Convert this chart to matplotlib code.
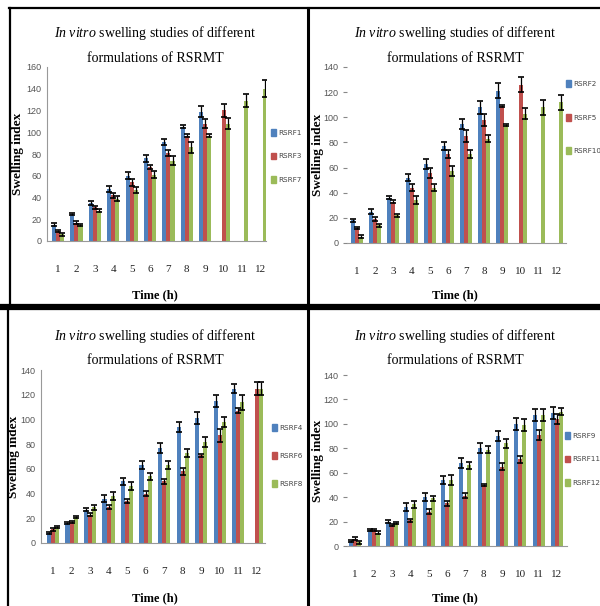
import numpy as np
import matplotlib
matplotlib.use("Agg")
import matplotlib.pyplot as plt
from matplotlib.lines import Line2D
from matplotlib.patches import Patch

plt.rcParams['mathtext.fontset'] = 'custom'
plt.rcParams['mathtext.rm'] = 'Liberation Serif'
plt.rcParams['mathtext.it'] = 'Liberation Serif:italic'

hours = list(range(1, 13))
nan = np.nan

# Panel A (top-left)
a_names = ["RSRF1", "RSRF3", "RSRF7"]
a_s1 = [15, 25, 35, 48, 60, 76, 91, 105, 119, nan, nan, nan]
a_s2 = [9, 17, 31, 42, 54, 68, 81, 97, 108, 120, nan, nan]
a_s3 = [6, 15, 28, 39, 47, 61, 74, 86, 97, 108, 129, 140]
a_e1 = [1.5, 1, 2, 2.5, 3, 3, 3, 1.5, 5, nan, nan, nan]
a_e2 = [1, 1, 1.5, 2, 3, 2, 3, 1, 4, 6, nan, nan]
a_e3 = [1, 1, 1.5, 2, 3, 3, 4, 5, 1, 5, 6, 8]

# Panel B (top-right)
b_names = ["RSRF2", "RSRF5", "RSRF10"]
b_s1 = [18, 25, 36, 52, 63, 77, 95, 108, 121, nan, nan, nan]
b_s2 = [12, 19, 33, 44, 56, 71, 85, 98, 109, 126, nan, nan]
b_s3 = [5, 14, 22, 34, 44, 57, 71, 83, 94, 103, 108, 112]
b_e1 = [1, 2, 1, 3, 4, 3, 4, 5, 6, nan, nan, nan]
b_e2 = [1, 1.5, 1, 3, 4, 3, 5, 5, 1, 6, nan, nan]
b_e3 = [1, 1, 1, 3, 3, 4, 3, 3, 1, 4, 6, 6]

# Panel C (bottom-left)
c_names = ["RSRF4", "RSRF6", "RSRF8"]
c_s1 = [8, 16, 27, 36, 50, 63, 77, 94, 101, 115, 125, nan]
c_s2 = [11, 17, 23, 29, 34, 40, 50, 58, 71, 87, 107, 125]
c_s3 = [13, 21, 29, 38, 46, 54, 63, 73, 82, 98, 114, 125]
c_e1 = [1, 1, 1.5, 3, 3, 3, 4, 4, 5, 5, 4, nan]
c_e2 = [1, 1, 1.5, 1.5, 2, 2, 2, 3, 1, 5, 2, 5]
c_e3 = [1, 1, 2, 3, 3, 3, 3, 3, 4, 4, 6, 5]

# Panel D (bottom-right)
d_names = ["RSRF9", "RSRF11", "RSRF12"]
d_s1 = [4, 13, 20, 32, 40, 54, 68, 80, 90, 100, 107, 109]
d_s2 = [6, 13, 17, 21, 28, 35, 41, 50, 65, 71, 91, 104]
d_s3 = [3, 11, 19, 34, 39, 54, 66, 79, 84, 99, 107, 110]
d_e1 = [1, 1, 1, 3, 3, 3, 4, 4, 4, 5, 5, 5]
d_e2 = [1, 1, 1, 1, 2, 2, 2, 1, 3, 3, 4, 4]
d_e3 = [1, 1, 1, 3, 2, 4, 3, 3, 4, 5, 5, 3]

colors = ["#4F81BD", "#C0504D", "#9BBB59"]
W, H = 600, 606
fig = plt.figure(figsize=(6, 6.06), dpi=100)

def fx(px):
    return px / W

def fy(py):
    return 1 - py / H

panels = [
    dict(names=a_names, s=[a_s1, a_s2, a_s3], e=[a_e1, a_e2, a_e3],
         box=(47, 266, 241, 67), xlim=(0.4, 12.3), ymax=160, spine=True,
         leg=(271, 129), lsp=2.3, title=(155, 33), tx=(155, 295), yl=18, pad=4),
    dict(names=b_names, s=[b_s1, b_s2, b_s3], e=[b_e1, b_e2, b_e3],
         box=(347, 566, 243, 67), xlim=(0.45, 12.5), ymax=140, spine=False,
         leg=(566, 80), lsp=3.7, title=(455, 33), tx=(455, 295), yl=318, pad=3),
    dict(names=c_names, s=[c_s1, c_s2, c_s3], e=[c_e1, c_e2, c_e3],
         box=(41, 265, 543, 370), xlim=(0.35, 12.45), ymax=140, spine=True,
         leg=(272, 424), lsp=2.9, title=(155, 336), tx=(155, 598), yl=14, pad=4),
    dict(names=d_names, s=[d_s1, d_s2, d_s3], e=[d_e1, d_e2, d_e3],
         box=(347, 567, 546, 375), xlim=(0.55, 12.55), ymax=140, spine=False,
         leg=(565, 432), lsp=2.3, title=(455, 336), tx=(455, 598), yl=318, pad=3),
]

x = np.array(hours, dtype=float)
w = 0.22
for p in panels:
    l, r, b, t = p['box']
    ax = fig.add_axes([fx(l), fy(b), fx(r) - fx(l), fy(t) - fy(b)])
    for i in range(3):
        vals = np.array(p['s'][i], dtype=float)
        errs = np.array(p['e'][i], dtype=float)
        pos = x + (i - 1) * w
        ax.bar(pos, vals, width=w, color=colors[i], label=p['names'][i])
        ax.errorbar(pos, vals, yerr=errs, fmt='none', ecolor='black',
                    elinewidth=0.9, capsize=2.2, capthick=1.2)
    ax.set_xlim(*p['xlim'])
    ax.set_ylim(0, p['ymax'])
    ax.set_yticks(np.arange(0, p['ymax'] + 1, 20))
    ax.set_xticks(hours)
    ax.set_xticklabels([str(h) for h in hours], family='Liberation Serif', fontsize=8)
    ax.tick_params(axis='x', length=0, pad=17, colors='#222222')
    for lab in ax.get_yticklabels():
        lab.set_family('Liberation Sans')
        lab.set_fontsize(6.5)
        lab.set_color('#555555')
    for s in ['top', 'right']:
        ax.spines[s].set_visible(False)
    ax.spines['bottom'].set_color('#999999')
    if p['spine']:
        ax.spines['left'].set_color('#999999')
        ax.tick_params(axis='y', length=0, pad=p['pad'])
    else:
        ax.spines['left'].set_visible(False)
        ax.tick_params(axis='y', length=3, width=0.8, color='#888888', pad=p['pad'])
    ylab = ax.set_ylabel('Swelling index', family='Liberation Serif',
                         fontweight='bold', fontsize=9.5)
    ylab.set_va('center')
    ax.yaxis.set_label_coords((p['yl'] - l) / (r - l), 0.5)
    fig.text(fx(p['tx'][0]), fy(p['tx'][1]), 'Time (h)', family='Liberation Serif',
             fontweight='bold', fontsize=9, ha='center', va='center')
    fig.text(fx(p['title'][0]), fy(p['title'][1]),
             r'$\mathit{In\ vitro}$ swelling studies of different',
             family='Liberation Serif', fontsize=10, ha='center', va='center')
    fig.text(fx(p['title'][0]), fy(p['title'][1] + 25), 'formulations of RSRMT',
             family='Liberation Serif', fontsize=10, ha='center', va='center')
    handles = [Patch(color=c) for c in colors]
    leg = ax.legend(handles, p['names'], loc='upper left',
                    bbox_to_anchor=(fx(p['leg'][0]), fy(p['leg'][1])),
                    bbox_transform=fig.transFigure, frameon=False, fontsize=5.2,
                    handlelength=0.7, handleheight=1.1, handletextpad=0.3,
                    labelspacing=p['lsp'], borderpad=0, borderaxespad=0)
    for txt in leg.get_texts():
        txt.set_color('#444444')

# panel borders
def hline(y, x0, x1, lw):
    fig.add_artist(Line2D([fx(x0), fx(x1)], [fy(y), fy(y)], color='black',
                          lw=lw, transform=fig.transFigure))

def vline(xp, y0, y1, lw):
    fig.add_artist(Line2D([fx(xp), fx(xp)], [fy(y0), fy(y1)], color='black',
                          lw=lw, transform=fig.transFigure))

hline(8, 9, 600, 1.6)
hline(307, 0, 600, 4.5)
vline(10, 8, 307, 1.6)
vline(8, 307, 606, 1.6)
vline(308, 8, 606, 2.2)

fig.savefig('out.png', dpi=100, facecolor='white')
